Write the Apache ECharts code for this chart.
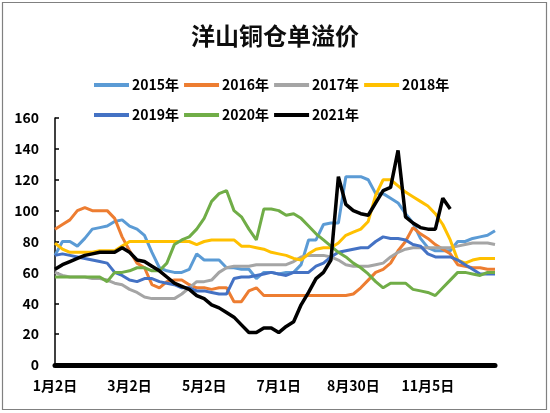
<!DOCTYPE html>
<html>
<head>
<meta charset="utf-8">
<script src="https://cdn.jsdelivr.net/npm/echarts@6/dist/echarts.min.js"></script>
<style>
html,body{margin:0;padding:0;background:#fff;}
#c{width:550px;height:413px;}
</style>
</head>
<body>
<div id="c"></div>
<script>
var categories = [
'1月2日','1月8日','1月14日','1月20日','1月26日','2月1日','2月7日','2月13日','2月19日','2月25日',
'3月2日','3月8日','3月14日','3月20日','3月26日','4月1日','4月7日','4月13日','4月19日','4月25日',
'5月2日','5月8日','5月14日','5月20日','5月26日','6月1日','6月7日','6月13日','6月19日','6月25日',
'7月1日','7月7日','7月13日','7月19日','7月25日','7月31日','8月6日','8月12日','8月18日','8月24日',
'8月30日','9月5日','9月11日','9月17日','9月23日','9月29日','10月11日','10月17日','10月23日','10月29日',
'11月5日','11月11日','11月17日','11月23日','11月29日','12月5日','12月11日','12月17日','12月23日','12月29日'
];
var y2015 = [71,80,80,77,82,88,89,90,93,94, 90,88,84,73,63,61,60,60,62,72, 68,68,68,63,63,62,62,56,60,60,
             59,60,60,65,81,81,91,92,92,122, 122,122,120,111,111,108,105,98,92,82, 76,74,74,74,80,80,82,83,84,87];
var y2016 = [88,91,94,100,102,100,100,100,95,83, 74,66,63,52,50,54,55,55,52,50, 50,49,50,50,41,41,48,50,45,45,
             45,45,45,45,45,45,45,45,45,45, 46,50,55,60,62,66,74,80,89,85, 82,78,75,72,65,64,63,63,62,62];
var y2017 = [60,58,57,57,57,56,56,55,53,52, 49,47,44,43,43,43,43,46,50,54, 54,55,60,63,64,64,64,65,65,65,
             65,65,67,70,71,71,71,70,68,65, 64,64,64,65,66,70,73,75,76,76, 76,76,76,76,77,78,79,79,79,78];
var y2018 = [79,75,73,73,73,73,74,74,74,77, 80,80,80,80,80,80,80,80,80,78, 80,81,81,81,81,77,77,76,75,73,
             72,71,69,68,72,75,76,76,79,84, 86,88,93,110,120,120,116,112,109,106, 103,98,91,81,68,66,68,69,69,69];
var y2019 = [71,72,71,70,69,68,67,66,60,58, 55,54,56,56,54,53,52,50,50,48, 48,47,46,46,56,57,57,58,59,60,
             59,58,60,60,60,64,66,70,73,74, 75,76,76,80,83,82,82,81,78,77, 72,70,70,70,68,65,62,59,59,59];
var y2020 = [57,57,57,57,57,57,57,54,60,60, 61,63,63,61,61,66,78,81,83,88, 95,106,111,113,100,96,88,81,101,101,
             100,97,98,95,90,85,81,77,73,70, 66,63,59,54,50,53,53,53,49,48, 47,45,50,55,60,60,59,58,60,60];
var y2021 = [62,65,67,69,71,72,73,73,73,76, 73,68,67,64,61,57,53,51,49,45, 43,39,37,34,31,26,21,21,24,24,
             21,25,28,39,47,56,60,68,122,104, 100,98,97,105,113,115,139,96,92,89, 88,88,108,101];
var seriesNames = ['2015年','2016年','2017年','2018年','2019年','2020年','2021年'];
var seriesColors = ['#5B9BD5','#ED7D31','#A5A5A5','#FFC000','#4472C4','#70AD47','#000000'];
var seriesData = [y2015,y2016,y2017,y2018,y2019,y2020,y2021];
var yTicks = {min:0, max:160, interval:20};

var FONT = '"Noto Sans CJK SC","Liberation Sans",sans-serif';
var chart = echarts.init(document.getElementById('c'));
var series = seriesNames.map(function(n,k){
  return {
    name:n, type:'line', data:seriesData[k], showSymbol:false, symbol:'none',
    lineStyle:{width:k===6?3.5:3, color:seriesColors[k]},
    itemStyle:{color:seriesColors[k]},
    animation:false
  };
});
var legendCommon = {
  icon:'rect', itemWidth:35, itemHeight:4, itemGap:5, left:89,
  textStyle:{fontFamily:FONT, fontSize:14, fontWeight:'bold', color:'#000', padding:[0,0,0,-2]}
};
chart.setOption({
  animation:false,
  backgroundColor:'#fff',
  graphic:[{type:'rect', shape:{x:2.5,y:2.5,width:544,height:407}, style:{fill:'none', stroke:'#808080', lineWidth:1.2}, z:-1}],
  title:{text:'洋山铜仓单溢价', left:'center', top:19,
    textStyle:{fontFamily:FONT, fontSize:24, fontWeight:'bold', color:'#0d0d0d'}},
  legend:[
    Object.assign({top:73, data:seriesNames.slice(0,4)}, legendCommon),
    Object.assign({top:103, data:seriesNames.slice(4)}, legendCommon)
  ],
  grid:{left:55, right:55, top:118, bottom:48, containLabel:false},
  xAxis:{type:'category', data:categories, boundaryGap:false,
    axisLine:{lineStyle:{color:'#000', width:5}},
    axisTick:{show:false},
    axisLabel:{interval:9, margin:14, fontFamily:FONT, fontSize:14, fontWeight:'bold', color:'#000'},
    splitLine:{show:false}},
  yAxis:{type:'value', min:yTicks.min, max:yTicks.max, interval:yTicks.interval,
    axisLine:{show:true, lineStyle:{color:'#000', width:1.5}},
    axisTick:{show:true, inside:true, length:4, lineStyle:{color:'#000', width:1.5}},
    axisLabel:{margin:16, fontFamily:FONT, fontSize:14, fontWeight:'bold', color:'#000'},
    splitLine:{show:false}},
  series:series
});
</script>
</body>
</html>
